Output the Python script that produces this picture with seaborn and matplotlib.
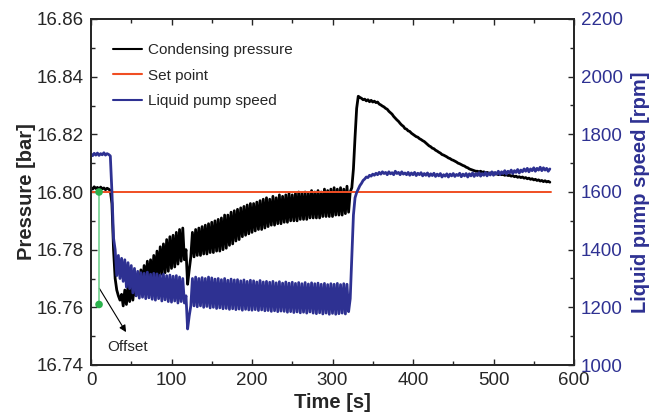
import numpy as np
import matplotlib
matplotlib.use("Agg")
import matplotlib.pyplot as plt
from matplotlib.ticker import MultipleLocator
import seaborn as sns

# sampling grid of the recording [s]
time_s = np.arange(0, 572, 2)

# condensing pressure [bar] (2 s steps)
pressure = [
    16.8015, 16.8010, 16.8018, 16.8012, 16.8016, 16.8009, 16.8017, 16.8011, 16.8014, 16.8008,
    16.8013, 16.8010, 16.8005, 16.7960, 16.7800, 16.7700, 16.7660, 16.7640, 16.7625, 16.7645,
    16.7605, 16.7660, 16.7610, 16.7675, 16.7620, 16.7680, 16.7625, 16.7685, 16.7640, 16.7700,
    16.7660, 16.7730, 16.7665, 16.7745, 16.7675, 16.7760, 16.7680, 16.7765, 16.7690, 16.7780,
    16.7700, 16.7795, 16.7705, 16.7810, 16.7715, 16.7820, 16.7720, 16.7835, 16.7725, 16.7845,
    16.7735, 16.7850, 16.7740, 16.7860, 16.7750, 16.7870, 16.7760, 16.7875, 16.7765, 16.7800,
    16.7680, 16.7730, 16.7775, 16.7860, 16.7775, 16.7870, 16.7780, 16.7875, 16.7780, 16.7880,
    16.7785, 16.7885, 16.7785, 16.7890, 16.7790, 16.7895, 16.7790, 16.7900, 16.7795, 16.7905,
    16.7795, 16.7910, 16.7800, 16.7920, 16.7805, 16.7920, 16.7815, 16.7930, 16.7820, 16.7935,
    16.7830, 16.7940, 16.7835, 16.7945, 16.7845, 16.7950, 16.7850, 16.7955, 16.7855, 16.7960,
    16.7860, 16.7960, 16.7865, 16.7965, 16.7870, 16.7970, 16.7870, 16.7975, 16.7875, 16.7980,
    16.7880, 16.7975, 16.7885, 16.7985, 16.7885, 16.7980, 16.7890, 16.7990, 16.7890, 16.7985,
    16.7895, 16.7990, 16.7895, 16.7995, 16.7900, 16.7990, 16.7900, 16.7995, 16.7900, 16.8000,
    16.7905, 16.7995, 16.7905, 16.8000, 16.7905, 16.7995, 16.7910, 16.8005, 16.7910, 16.8000,
    16.7910, 16.8005, 16.7910, 16.8000, 16.7915, 16.8010, 16.7915, 16.8005, 16.7915, 16.8010,
    16.7915, 16.8015, 16.7920, 16.8010, 16.7920, 16.8015, 16.7920, 16.8010, 16.7925, 16.8020,
    16.7930, 16.8000, 16.8015, 16.8080, 16.8190, 16.8290, 16.8332, 16.8328, 16.8325, 16.8320,
    16.8322, 16.8316, 16.8320, 16.8313, 16.8318, 16.8312, 16.8315, 16.8310, 16.8312, 16.8305,
    16.8302, 16.8298, 16.8295, 16.8290, 16.8287, 16.8280, 16.8275, 16.8270, 16.8262, 16.8256,
    16.8250, 16.8245, 16.8238, 16.8232, 16.8228, 16.8220, 16.8218, 16.8212, 16.8210, 16.8204,
    16.8200, 16.8196, 16.8192, 16.8190, 16.8185, 16.8182, 16.8178, 16.8175, 16.8170, 16.8165,
    16.8160, 16.8157, 16.8152, 16.8150, 16.8145, 16.8142, 16.8138, 16.8135, 16.8130, 16.8128,
    16.8125, 16.8122, 16.8118, 16.8116, 16.8112, 16.8110, 16.8107, 16.8104, 16.8100, 16.8098,
    16.8095, 16.8092, 16.8090, 16.8086, 16.8084, 16.8080, 16.8078, 16.8076, 16.8074, 16.8072,
    16.8072, 16.8070, 16.8072, 16.8068, 16.8070, 16.8066, 16.8068, 16.8065, 16.8066, 16.8064,
    16.8066, 16.8062, 16.8064, 16.8060, 16.8063, 16.8060, 16.8061, 16.8058, 16.8060, 16.8057,
    16.8058, 16.8055, 16.8057, 16.8053, 16.8055, 16.8051, 16.8053, 16.8050, 16.8052, 16.8048,
    16.8050, 16.8046, 16.8048, 16.8044, 16.8046, 16.8042, 16.8044, 16.8040, 16.8042, 16.8038,
    16.8040, 16.8036, 16.8039, 16.8035, 16.8037, 16.8034,
]

# liquid pump speed [rpm], same grid
pump_speed = [
    1732, 1726, 1734, 1728, 1735, 1727, 1733, 1729, 1736, 1728,
    1733, 1730, 1725, 1600, 1440, 1400, 1310, 1380, 1300, 1370,
    1290, 1365, 1270, 1355, 1265, 1345, 1250, 1335, 1240, 1325,
    1232, 1320, 1235, 1318, 1230, 1322, 1233, 1315, 1228, 1318,
    1225, 1316, 1230, 1312, 1222, 1315, 1226, 1310, 1220, 1312,
    1218, 1308, 1222, 1310, 1215, 1305, 1220, 1300, 1215, 1240,
    1125, 1170, 1205, 1300, 1205, 1305, 1202, 1300, 1205, 1303,
    1200, 1300, 1203, 1305, 1198, 1302, 1200, 1298, 1196, 1300,
    1198, 1296, 1195, 1300, 1196, 1294, 1193, 1298, 1195, 1295,
    1192, 1296, 1194, 1292, 1190, 1295, 1193, 1290, 1191, 1294,
    1190, 1292, 1192, 1288, 1189, 1293, 1191, 1288, 1188, 1290,
    1189, 1287, 1186, 1290, 1188, 1285, 1185, 1289, 1187, 1284,
    1186, 1288, 1183, 1284, 1185, 1287, 1182, 1283, 1184, 1286,
    1181, 1282, 1183, 1286, 1180, 1281, 1184, 1285, 1180, 1282,
    1178, 1284, 1181, 1280, 1177, 1283, 1180, 1279, 1176, 1282,
    1179, 1280, 1176, 1283, 1178, 1279, 1180, 1282, 1177, 1280,
    1185, 1230, 1380, 1520, 1580, 1598, 1610, 1622, 1630, 1640,
    1645, 1652, 1650, 1658, 1655, 1662, 1658, 1665, 1660, 1668,
    1662, 1670, 1664, 1668, 1660, 1670, 1663, 1667, 1660, 1672,
    1664, 1668, 1660, 1670, 1662, 1666, 1660, 1668, 1658, 1666,
    1660, 1668, 1657, 1665, 1660, 1667, 1656, 1664, 1658, 1666,
    1655, 1663, 1657, 1665, 1654, 1662, 1656, 1664, 1652, 1660,
    1655, 1663, 1652, 1662, 1656, 1664, 1654, 1661, 1657, 1665,
    1653, 1662, 1656, 1664, 1652, 1663, 1656, 1666, 1654, 1664,
    1657, 1667, 1655, 1664, 1658, 1668, 1656, 1666, 1659, 1670,
    1658, 1668, 1662, 1672, 1660, 1670, 1664, 1674, 1662, 1672,
    1666, 1676, 1664, 1674, 1668, 1678, 1666, 1676, 1670, 1680,
    1672, 1682, 1670, 1680, 1674, 1684, 1672, 1682, 1676, 1686,
    1674, 1684, 1676, 1682, 1672, 1680,
]

set_point_time = [0, 572]
set_point = [16.80, 16.80]

# offset marker (pressure before and after)
offset_time = [10, 10]
offset_pressure = [16.800, 16.761]

black = "#000000"
red = "#f04e23"
blue = "#2e3192"
green_line = "#74d391"
green_dot = "#2bb24c"

sns.set_style("ticks")
plt.rcParams["font.family"] = ["Liberation Sans", "DejaVu Sans"]
plt.rcParams["xtick.direction"] = "in"
plt.rcParams["ytick.direction"] = "in"

fig = plt.figure(figsize=(6.59, 4.19), dpi=100)
ax = fig.add_axes([91 / 659, 54 / 419, 483 / 659, 346 / 419])
ax2 = ax.twinx()

sns.lineplot(x=time_s, y=pressure, ax=ax, color=black, lw=2.0, estimator=None,
             label="Condensing pressure", zorder=2)
sns.lineplot(x=set_point_time, y=set_point, ax=ax, color=red, lw=1.4, estimator=None,
             label="Set point", zorder=3)
sns.lineplot(x=offset_time, y=offset_pressure, ax=ax, color=green_line, lw=1.2,
             estimator=None, legend=False, zorder=4)
sns.scatterplot(x=offset_time, y=offset_pressure, ax=ax, color=green_dot, s=30,
                edgecolor="none", legend=False, zorder=5)
sns.lineplot(x=time_s, y=pump_speed, ax=ax2, color=blue, lw=2.0, estimator=None,
             label="Liquid pump speed")

ax.annotate("", xy=(43.5, 16.7514), xytext=(10.3, 16.7666),
            arrowprops=dict(arrowstyle="-|>", color="black", lw=0.8,
                            mutation_scale=10, shrinkA=0, shrinkB=0))
ax.text(46, 16.7463, "Offset", ha="center", va="center", fontsize=11)

ax.set_xlim(0, 600)
ax.set_ylim(16.74, 16.86)
ax2.set_ylim(1000, 2200)

ax.xaxis.set_major_locator(MultipleLocator(100))
ax.xaxis.set_minor_locator(MultipleLocator(50))
ax.yaxis.set_major_locator(MultipleLocator(0.02))
ax.yaxis.set_minor_locator(MultipleLocator(0.01))
ax2.yaxis.set_major_locator(MultipleLocator(200))
ax2.yaxis.set_minor_locator(MultipleLocator(100))
ax.yaxis.set_major_formatter(plt.FormatStrFormatter("%.2f"))

ax.tick_params(axis="both", which="major", labelsize=13.5, length=4, width=1.0,
               top=True, right=False, pad=5)
ax.tick_params(axis="both", which="minor", length=3, width=1.0, top=True, right=False)
ax2.tick_params(axis="y", which="major", labelsize=13.5, length=4, width=1.0,
                labelcolor=blue, pad=5)
ax2.tick_params(axis="y", which="minor", length=3, width=1.0)

for a in (ax, ax2):
    for sp in a.spines.values():
        sp.set_linewidth(1.3)
        sp.set_visible(True)

ax.set_xlabel("Time [s]", fontsize=14.5, fontweight="bold", labelpad=3)
ax.set_ylabel("Pressure [bar]", fontsize=14.5, fontweight="bold", labelpad=1)
ax2.set_ylabel("Liquid pump speed [rpm]", fontsize=14.5, fontweight="bold",
               color=blue, labelpad=6)

h1, l1 = ax.get_legend_handles_labels()
h2, l2 = ax2.get_legend_handles_labels()
ax2.get_legend().remove()
leg = ax.legend(h1 + h2, l1 + l2, loc="upper left", bbox_to_anchor=(0.045, 0.93),
                frameon=False, fontsize=11, handlelength=1.9, handletextpad=0.4,
                labelspacing=0.75, borderpad=0, borderaxespad=0)
for line in leg.get_lines():
    line.set_linewidth(1.5)

fig.savefig("out.png", dpi=100)
